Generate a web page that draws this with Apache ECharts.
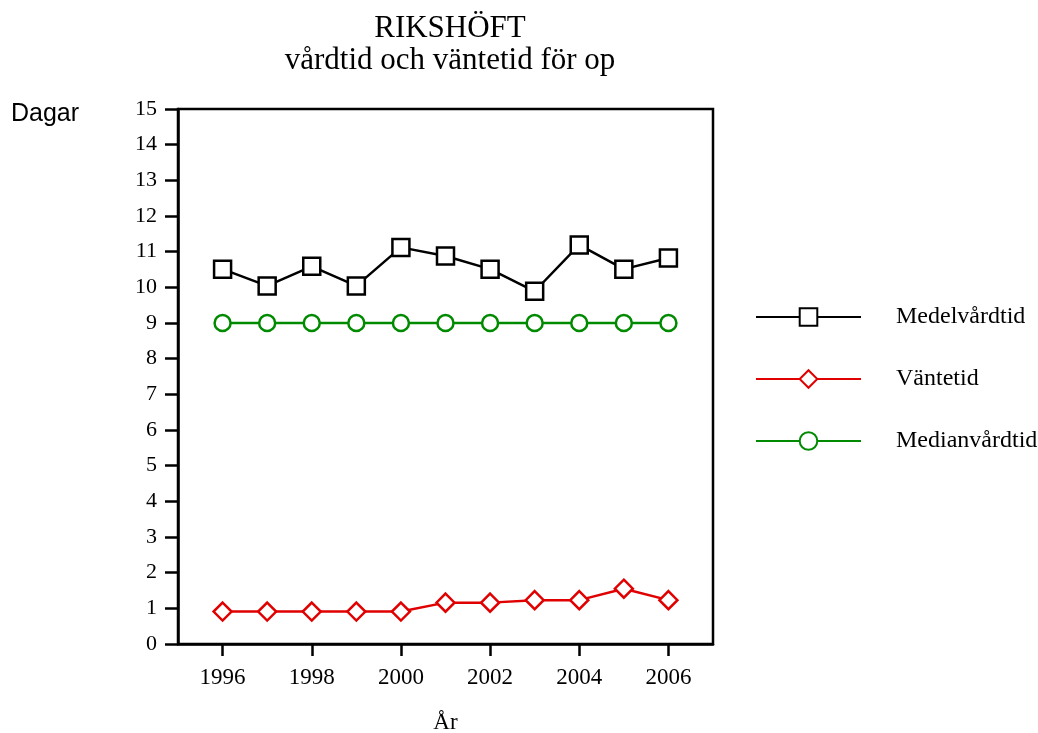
<!DOCTYPE html>
<html>
<head>
<meta charset="utf-8">
<script src="https://cdn.jsdelivr.net/npm/echarts@6/dist/echarts.min.js"></script>
<style>
html,body{margin:0;padding:0;background:#fff;}
#chart{width:1038px;height:733px;}
</style>
</head>
<body>
<div id="chart"></div>
<script>
var years = [1996, 1997, 1998, 1999, 2000, 2001, 2002, 2003, 2004, 2005, 2006];
var medelvardtid = [10.51, 10.04, 10.59, 10.04, 11.12, 10.88, 10.51, 9.89, 11.19, 10.51, 10.82];
var vantetid = [0.91, 0.91, 0.91, 0.91, 0.91, 1.16, 1.16, 1.23, 1.23, 1.55, 1.23];
var medianvardtid = [9, 9, 9, 9, 9, 9, 9, 9, 9, 9, 9];
var xTicks = [1996, 1998, 2000, 2002, 2004, 2006];

var serif = "'Liberation Serif', 'Times New Roman', serif";

function pairs(vals) {
    return years.map(function (y, i) { return [y, vals[i]]; });
}

var chart = echarts.init(document.getElementById('chart'), null, {renderer: 'canvas'});
var option = {
    backgroundColor: '#fff',
    animation: false,
    title: {
        text: 'RIKSHÖFT\nvårdtid och väntetid för op',
        left: 445,
        textAlign: 'center',
        top: 8,
        textStyle: {
            fontFamily: serif,
            fontWeight: 'normal',
            fontSize: 31,
            lineHeight: 32,
            color: '#000'
        }
    },
    graphic: [{
        type: 'text',
        left: 11,
        top: 102,
        style: {
            text: 'Dagar',
            font: "25px 'Liberation Sans', Arial, sans-serif",
            fill: '#000'
        }
    }],
    legend: {
        orient: 'vertical',
        left: 750,
        top: 300,
        itemWidth: 105,
        itemHeight: 22,
        itemGap: 38,
        textStyle: {
            fontFamily: serif,
            fontSize: 24,
            lineHeight: 24,
            color: '#000',
            padding: [0, 0, 0, 30]
        },
        data: ['Medelvårdtid', 'Väntetid', 'Medianvårdtid']
    },
    grid: {
        left: 178,
        right: 325,
        top: 109,
        bottom: 89,
        outerBoundsMode: 'none',
        show: true,
        borderColor: '#000',
        borderWidth: 2.5
    },
    xAxis: {
        type: 'value',
        min: 1995,
        max: 2007,
        name: 'År',
        nameLocation: 'middle',
        nameGap: 67,
        nameTextStyle: {fontFamily: serif, fontSize: 23, color: '#000'},
        splitLine: {show: false},
        axisLine: {show: true, lineStyle: {color: '#000', width: 2.5}},
        axisTick: {show: true, length: 12, customValues: xTicks, lineStyle: {color: '#000', width: 2.5}},
        axisLabel: {
            customValues: xTicks,
            formatter: function (v) { return String(v); },
            margin: 22,
            fontFamily: serif,
            fontSize: 23,
            color: '#000'
        }
    },
    yAxis: {
        type: 'value',
        min: 0,
        max: 15,
        interval: 1,
        splitLine: {show: false},
        axisLine: {show: true, lineStyle: {color: '#000', width: 2.5}},
        axisTick: {show: true, length: 13, lineStyle: {color: '#000', width: 2.5}},
        axisLabel: {
            margin: 21,
            fontFamily: serif,
            fontSize: 22,
            color: '#000'
        }
    },
    series: [
        {
            name: 'Medelvårdtid',
            type: 'line',
            data: pairs(medelvardtid),
            symbol: 'rect',
            symbolSize: 17,
            showAllSymbol: true,
            lineStyle: {color: '#000', width: 2.5},
            itemStyle: {color: '#fff', borderColor: '#000', borderWidth: 2.5}
        },
        {
            name: 'Väntetid',
            type: 'line',
            data: pairs(vantetid),
            symbol: 'diamond',
            symbolSize: 18,
            showAllSymbol: true,
            lineStyle: {color: '#e00000', width: 2.5},
            itemStyle: {color: '#fff', borderColor: '#e00000', borderWidth: 2.5}
        },
        {
            name: 'Medianvårdtid',
            type: 'line',
            data: pairs(medianvardtid),
            symbol: 'circle',
            symbolSize: 16,
            showAllSymbol: true,
            lineStyle: {color: '#008a00', width: 2.5},
            itemStyle: {color: '#fff', borderColor: '#008a00', borderWidth: 2.5}
        }
    ]
};
chart.setOption(option);
</script>
</body>
</html>
